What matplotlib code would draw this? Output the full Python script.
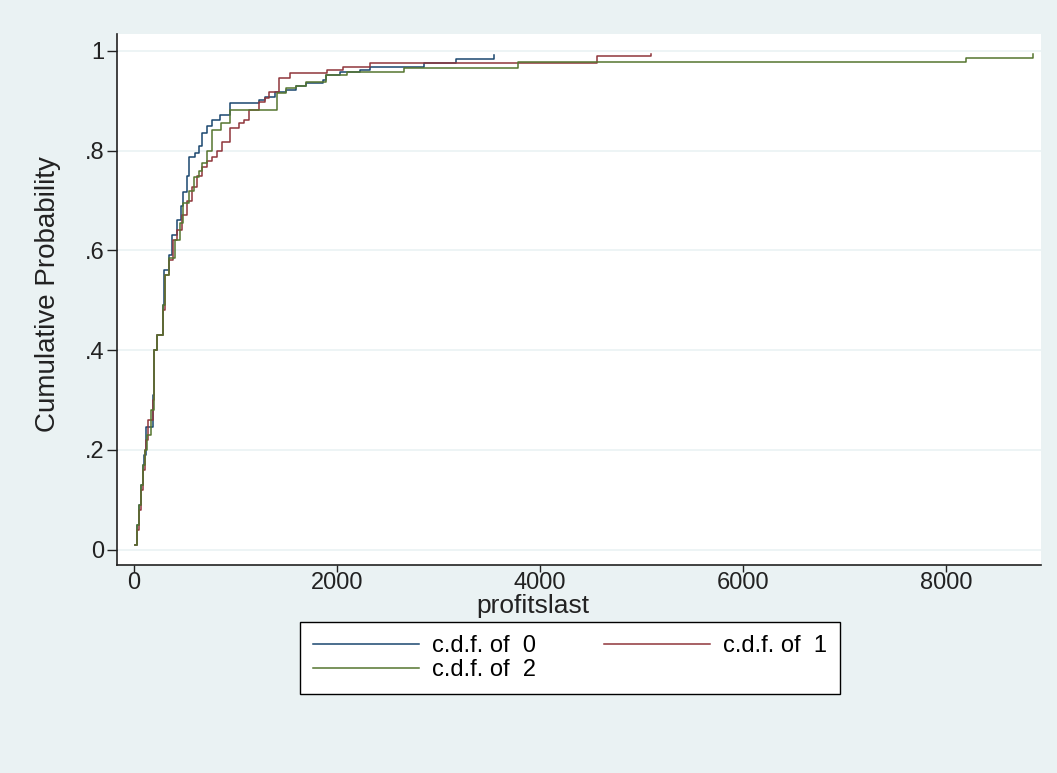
import matplotlib
matplotlib.use("Agg")
import matplotlib.pyplot as plt

x0 = [10, 30, 50, 70, 90, 100, 120, 190, 200, 230, 290, 300, 350, 378, 420, 460, 488, 520, 547,
      600, 637, 667, 720, 766, 846, 945, 1234, 1294, 1393, 1500, 1600, 1692, 1861, 1890, 2030,
      2229, 2330, 2856, 3170, 3552]
p0 = [0.01, 0.05, 0.09, 0.13, 0.17, 0.19, 0.246, 0.31, 0.40, 0.43, 0.49, 0.56, 0.59, 0.63, 0.66,
      0.69, 0.717, 0.75, 0.787, 0.795, 0.81, 0.836, 0.85, 0.862, 0.872, 0.896, 0.902, 0.908, 0.918,
      0.922, 0.93, 0.936, 0.942, 0.952, 0.958, 0.962, 0.968, 0.976, 0.984, 0.992]

x1 = [10, 30, 50, 70, 90, 110, 120, 140, 190, 200, 230, 290, 310, 350, 388, 420, 470, 520, 567,
      620, 667, 720, 766, 816, 870, 945, 1035, 1085, 1134, 1234, 1294, 1333, 1433, 1542, 1900,
      2060, 2330, 4557, 5094]
p1 = [0.01, 0.04, 0.08, 0.12, 0.16, 0.20, 0.22, 0.26, 0.30, 0.40, 0.43, 0.48, 0.55, 0.58, 0.62,
      0.64, 0.67, 0.70, 0.727, 0.75, 0.767, 0.78, 0.787, 0.80, 0.818, 0.846, 0.855, 0.862, 0.882,
      0.898, 0.906, 0.918, 0.946, 0.956, 0.962, 0.968, 0.976, 0.99, 0.994]

x2 = [10, 30, 50, 70, 90, 110, 130, 170, 200, 230, 290, 310, 350, 400, 450, 488, 540, 587, 640,
      667, 720, 766, 860, 945, 1413, 1500, 1600, 1692, 1890, 2100, 2657, 3781, 8200, 8860]
p2 = [0.01, 0.05, 0.09, 0.13, 0.17, 0.20, 0.23, 0.28, 0.40, 0.43, 0.49, 0.55, 0.585, 0.62, 0.655,
      0.695, 0.72, 0.747, 0.76, 0.775, 0.80, 0.842, 0.856, 0.882, 0.916, 0.926, 0.93, 0.938, 0.952,
      0.958, 0.966, 0.978, 0.986, 0.994]

labels = ["c.d.f. of  0", "c.d.f. of  1", "c.d.f. of  2"]
colors = ["#1A476F", "#90353B", "#55752F"]
xticks = [0, 2000, 4000, 6000, 8000]
yticks = [0, 0.2, 0.4, 0.6, 0.8, 1.0]
yticklabels = ["0", ".2", ".4", ".6", ".8", "1"]

plt.rcParams["font.family"] = ["Liberation Sans", "DejaVu Sans"]

W, H = 1057, 773
fig = plt.figure(figsize=(W / 100, H / 100), dpi=100)
fig.patch.set_facecolor("#EAF2F3")
ax = fig.add_axes([117 / W, 1 - 565 / H, (1041 - 117) / W, (565 - 34) / H])
ax.set_facecolor("white")

lines = []
for xs, ps, c, lab in zip([x0, x1, x2], [p0, p1, p2], colors, labels):
    ln, = ax.step(xs, ps, where="post", color=c, lw=1.1, label=lab)
    lines.append(ln)

ax.set_xlim(-167, 8936)
ax.set_ylim(-0.031, 1.034)
ax.set_xticks(xticks)
ax.set_xticklabels([str(t) for t in xticks])
ax.set_yticks(yticks)
ax.set_yticklabels(yticklabels)
ax.tick_params(axis="both", direction="out", length=5, width=1.0, color="#222222",
               labelsize=17, labelcolor="#222222", pad=0)
ax.tick_params(axis="y", length=7, pad=2)
ax.grid(axis="y", color="#EAF2F3", lw=1.2)
ax.set_axisbelow(True)
for s in ["top", "right"]:
    ax.spines[s].set_visible(False)
for s in ["left", "bottom"]:
    ax.spines[s].set_color("#222222")
    ax.spines[s].set_linewidth(1.2)

fig.text(48 / W, 1 - 294 / H, "Cumulative Probability", rotation=90, ha="center", va="center",
         fontsize=20, color="#222222")
fig.text(533 / W, 1 - 606 / H, "profitslast", ha="center", va="center", fontsize=19,
         color="#222222")

order = [0, 2, 1]
leg = fig.legend([lines[i] for i in order], [labels[i] for i in order],
                 loc="upper left", bbox_to_anchor=(300 / W, 1 - 622 / H), ncol=2,
                 fontsize=17, frameon=True, fancybox=False, edgecolor="black",
                 facecolor="white", framealpha=1, handlelength=4.5, handletextpad=0.55,
                 columnspacing=2.85, borderpad=0.55, labelspacing=0.1, borderaxespad=0)
leg.get_frame().set_linewidth(1.0)

fig.savefig("out.png", dpi=100, facecolor=fig.get_facecolor())
